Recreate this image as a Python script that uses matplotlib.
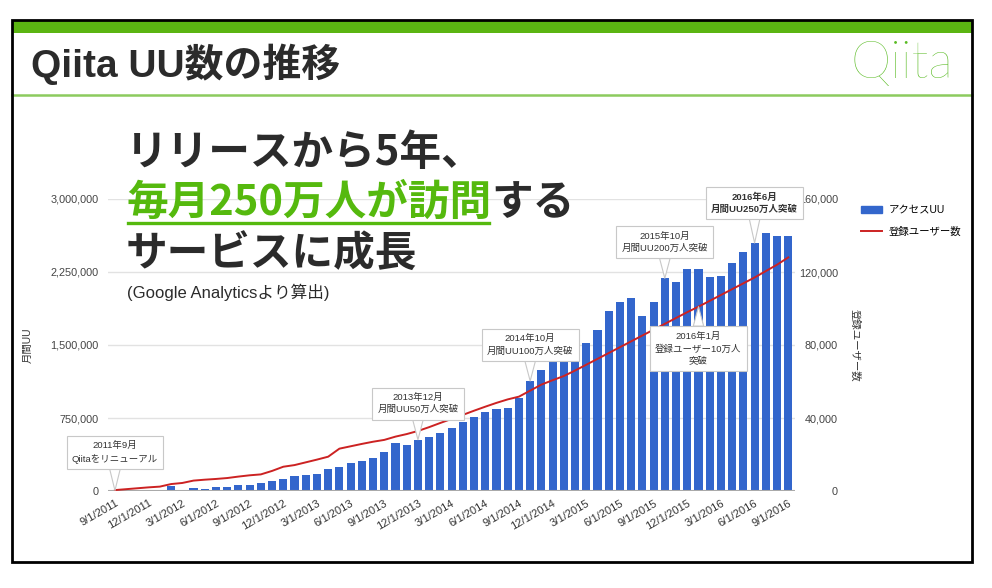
import matplotlib
matplotlib.use("Agg")
import matplotlib.pyplot as plt
from matplotlib.patches import Rectangle, Patch
from matplotlib.lines import Line2D

plt.rcParams['font.family'] = ['Liberation Sans', 'Noto Sans CJK JP', 'DejaVu Sans']

# monthly data, 9/2011 .. 9/2016
access_uu = [5000, 4000, 6000, 8000, 12000, 50000, 15000, 28000, 20000, 38000,
             44000, 62000, 62000, 82000, 106000, 120000, 157000, 164000, 178000, 223000,
             250000, 285000, 308000, 336000, 397000, 490000, 476000, 527000, 555000, 599000,
             644000, 709000, 764000, 815000, 839000, 849000, 959000, 1130000, 1240000, 1336000,
             1336000, 1412000, 1521000, 1657000, 1849000, 1939000, 1986000, 1795000, 1945000, 2185000,
             2144000, 2281000, 2281000, 2199000, 2206000, 2346000, 2452000, 2548000, 2651000, 2620000,
             2620000]
users = [500, 1000, 1500, 2000, 2400, 3800, 4400, 5700, 6200, 6600,
         7100, 7900, 8600, 9100, 11000, 13300, 14200, 15700, 17200, 18800,
         23200, 24500, 25800, 27000, 28000, 29800, 31200, 32900, 35000, 37300,
         39500, 41700, 44000, 46200, 48300, 50200, 51700, 55000, 58300, 60700,
         63000, 66000, 69200, 72400, 75600, 78800, 82000, 85200, 88400, 91600,
         94800, 98000, 101000, 104200, 107400, 110600, 113800, 117000, 120500, 124000,
         128000]
tick_labels = ['9/1/2011', '12/1/2011', '3/1/2012', '6/1/2012', '9/1/2012', '12/1/2012',
               '3/1/2013', '6/1/2013', '9/1/2013', '12/1/2013', '3/1/2014', '6/1/2014',
               '9/1/2014', '12/1/2014', '3/1/2015', '6/1/2015', '9/1/2015', '12/1/2015',
               '3/1/2016', '6/1/2016', '9/1/2016']
left_ticks = [0, 750000, 1500000, 2250000, 3000000]
right_ticks = [0, 40000, 80000, 120000, 160000]

# callouts: (month index, series, text, bold, offset px)
callouts = [
    (0, 'uu', '2011年9月\nQiitaをリニューアル', False, 38),
    (27, 'uu', '2013年12月\n月間UU50万人突破', False, 36),
    (37, 'uu', '2014年10月\n月間UU100万人突破', False, 36),
    (49, 'uu', '2015年10月\n月間UU200万人突破', False, 36),
    (57, 'uu', '2016年6月\n月間UU250万人突破', True, 40),
    (52, 'users', '2016年1月\n登録ユーザー10万人\n突破', False, -42),
]

BLUE = '#3366CC'
RED = '#CC2222'
GREEN = '#55B90E'
DARK = '#2b2b2b'

W, H = 992, 588
fx = lambda px: px / W
fy = lambda py: 1 - py / H

fig = plt.figure(figsize=(W / 100, H / 100), dpi=100)

# slide frame
fig.add_artist(Rectangle((fx(12), fy(562)), fx(972) - fx(12), fy(20) - fy(562),
                         transform=fig.transFigure, fill=False, ec='black', lw=2, zorder=10))
fig.add_artist(Rectangle((fx(12), fy(33)), fx(972) - fx(12), fy(20) - fy(33),
                         transform=fig.transFigure, fc='#5BB512', ec='none', zorder=9))
fig.add_artist(Line2D([fx(12), fx(972)], [fy(95), fy(95)], transform=fig.transFigure,
                      color='#8CCB5E', lw=1.8))
fig.text(fx(31), fy(64), 'Qiita UU数の推移', fontsize=28, fontweight='bold', color=DARK,
         va='center', ha='left')
fig.text(fx(953), fy(64), 'Qiita', fontsize=37, color='#59BB23', va='center', ha='right',
         family=['Lato', 'DejaVu Sans'], fontweight='light')

# chart
x = list(range(len(access_uu)))
ax = fig.add_axes([fx(108), fy(491), (795 - 108) / W, (491 - 199) / H])
ax.bar(x, access_uu, width=0.72, color=BLUE, zorder=2)
ax.set_xlim(-0.62, 60.6)
ax.set_ylim(0, 3000000)
ax.set_yticks(left_ticks)
ax.set_yticklabels([f'{v:,}' for v in left_ticks])
ax.grid(axis='y', color='#e2e2e2', lw=1)
ax.set_axisbelow(True)
ax.axhline(0, color='#aaaaaa', lw=1.5, zorder=3)
for s in ax.spines.values():
    s.set_visible(False)
ax.tick_params(axis='y', length=0, labelsize=7.8, labelcolor='#444444', pad=7)
ax.set_xticks(x[::3])
ax.set_xticklabels(tick_labels, rotation=30, ha='right', rotation_mode='anchor')
ax.tick_params(axis='x', length=0, labelsize=8, labelcolor='#333333', pad=5)
ax.set_ylabel('月間UU', fontsize=7.5, color='#333333')
ax.yaxis.set_label_coords(-0.11, 0.5)

ax2 = ax.twinx()
ax2.plot(x, users, color=RED, lw=1.4, zorder=3)
ax2.set_ylim(0, 160000)
ax2.set_yticks(right_ticks)
ax2.set_yticklabels([f'{v:,}' for v in right_ticks])
for s in ax2.spines.values():
    s.set_visible(False)
ax2.tick_params(axis='y', length=0, labelsize=7.8, labelcolor='#444444', pad=31)
for t in ax2.get_yticklabels():
    t.set_ha('right')
ax2.set_ylabel('登録ユーザー数', fontsize=7.5, color='#333333', rotation=270, va='center')
ax2.yaxis.set_label_coords(1.087, 0.5)

for idx, series, txt, bold, dy in callouts:
    if series == 'uu':
        xy, trans = (idx, access_uu[idx]), ax.transData
    else:
        xy, trans = (idx, users[idx]), ax2.transData
    ax2.annotate(txt, xy=xy, xycoords=trans, xytext=(0, dy), textcoords='offset pixels',
                 ha='center', va='center', fontsize=6.8, color='#333333',
                 fontweight='bold' if bold else 'normal', linespacing=1.45, zorder=6,
                 bbox=dict(boxstyle='square,pad=0.55', fc='white', ec='#c8c8c8', lw=0.8),
                 arrowprops=dict(arrowstyle='wedge,tail_width=1.1,shrink_factor=0.5',
                                 fc='white', ec='#c8c8c8', lw=0.8, shrinkA=0, shrinkB=0))

fig.legend(handles=[Patch(color=BLUE), Line2D([], [], color=RED, lw=1.4)],
           labels=['アクセスUU', '登録ユーザー数'], loc='upper left',
           bbox_to_anchor=(fx(852), fy(196)), frameon=False, fontsize=7.5,
           handlelength=2.0, handleheight=0.6, labelspacing=1.1, handletextpad=0.6)

# headline overlay
big = dict(fontsize=30, fontweight='bold', va='center', ha='left',
           family=['Noto Sans CJK JP', 'DejaVu Sans'], zorder=8)
fig.text(fx(126), fy(153), 'リリースから5年、', color=DARK, **big)
t1 = fig.text(fx(126), fy(203), '毎月250万人が訪問', color=GREEN, **big)
fig.text(fx(126), fy(254), 'サービスに成長', color=DARK, **big)
fig.text(fx(127), fy(292), '(Google Analyticsより算出)', fontsize=12, color=DARK,
         va='center', ha='left', zorder=8)

fig.canvas.draw()
bb = t1.get_window_extent(fig.canvas.get_renderer())
fig.text(bb.x1 / W, fy(203), 'する', color=DARK, **big)
fig.add_artist(Line2D([bb.x0 / W + 0.002, bb.x1 / W - 0.002], [fy(223), fy(223)],
                      transform=fig.transFigure, color=GREEN, lw=2.4, zorder=8))

fig.savefig('out.png', dpi=100)
